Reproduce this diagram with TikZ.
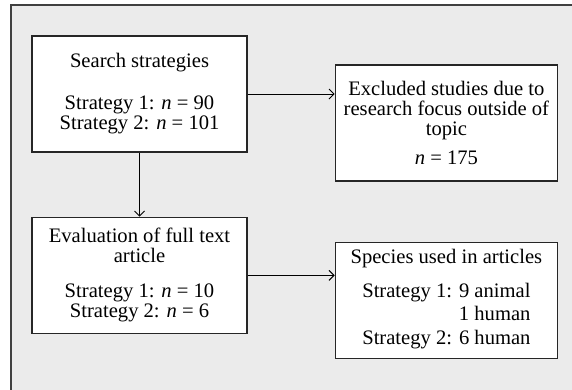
\documentclass[tikz,border=0pt]{standalone}
\usepackage{fontspec}
\setmainfont{Liberation Serif}
\usetikzlibrary{arrows.meta,positioning}
\tikzset{
  frame/.style={draw=black!75, line width=1.5pt, fill=black!8},
  box/.style={draw=black!85, fill=white, line width=1.4pt, align=center, minimum width=215pt, minimum height=116pt, inner sep=0pt, font=\fontsize{20.6}{20}\selectfont},
  widebox/.style={box, minimum width=222pt},
  line/.style={-{Straight Barb[length=5pt,width=10pt]}, line width=1pt}
}

\begin{document}
\begin{tikzpicture}[x=1pt, y=1pt]
        \useasboundingbox (0,0) rectangle (572,-389);
        \draw[frame] (11,-5) rectangle (590,-400);
        \node[box] (search) at (139.5,-94) {Search strategies\\[22pt]Strategy 1: \textit{n} = 90\\Strategy 2: \textit{n} = 101};
        \node[widebox, right=87pt of search, yshift=-29pt] (excl) {Excluded studies due to\\research focus outside of\\topic\\[9pt]\textit{n} = 175};
        \node[box, below=64pt of search] (eval) {Evaluation of full text\\article\\[15pt]Strategy 1: \textit{n} = 10\\Strategy 2: \textit{n} = 6};
        \node[widebox, right=87pt of eval, yshift=-25pt] (species) {Species used in articles\\[12pt]{\def\arraystretch{1.17}\begin{tabular}{@{}l@{ }r@{}}Strategy 1: & 9 animal\\ & 1 human\\Strategy 2: & 6 human\end{tabular}}};
        \draw[line] (search.east) -- (search.east -| excl.west);
        \draw[line] (search) -- (eval);
        \draw[line] (eval.east) -- (eval.east -| species.west);
      \end{tikzpicture}
\end{document}
